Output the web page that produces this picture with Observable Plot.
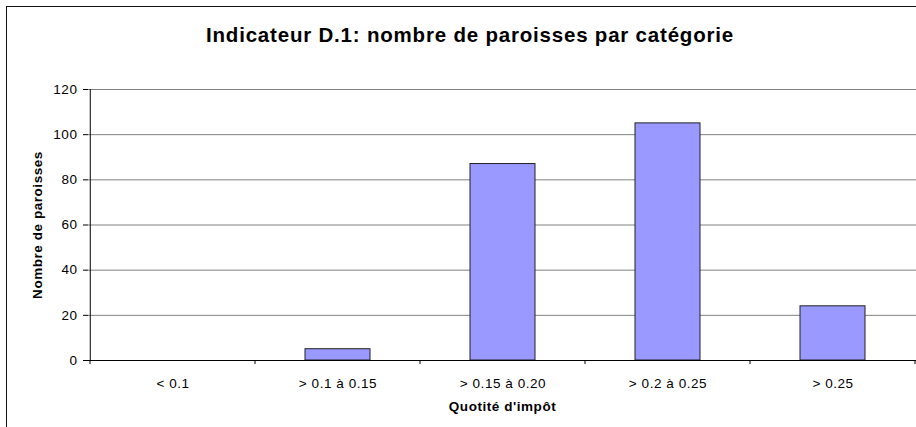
<!DOCTYPE html>
<html>
<head>
<meta charset="utf-8">
<script src="https://cdn.jsdelivr.net/npm/d3@7"></script>
<script src="https://cdn.jsdelivr.net/npm/@observablehq/plot@0.6"></script>
<style>
  html, body { margin: 0; padding: 0; background: #fff; }
  #wrap { position: relative; width: 916px; height: 427px; overflow: hidden; font-family: "Liberation Sans", Arial, sans-serif; }
  #frame { position: absolute; left: 6px; top: 6px; width: 1000px; height: 1000px; border: 1.5px solid #111; box-sizing: border-box; }
  #title { position: absolute; left: 0; top: 23px; width: 940px; text-align: center; font-weight: bold; font-size: 20.5px; letter-spacing: 0.8px; color: #000; }
  #chart { position: absolute; left: 0; top: 0; }
  #chart svg text { letter-spacing: 0.55px; }
</style>
</head>
<body>
<div id="wrap">
  <div id="frame"></div>
  <div id="title">Indicateur D.1: nombre de paroisses par catégorie</div>
  <div id="chart"></div>
</div>
<script>
const categories = ["< 0.1", "> 0.1 à 0.15", "> 0.15 à 0.20", "> 0.2 à 0.25", "> 0.25"];
const counts = [0, 5, 87, 105, 24];
const yTicks = [0, 20, 40, 60, 80, 100, 120];
const xLabel = "Quotité d'impôt";
const yLabel = "Nombre de paroisses";

const data = categories.map((c, i) => ({cat: c, n: counts[i]}));

const plot = Plot.plot({
  width: 916,
  height: 427,
  marginTop: 89,
  marginBottom: 67,
  marginLeft: 88,
  marginRight: 0,
  style: {fontFamily: "'Liberation Sans', Arial, sans-serif", fontSize: "13.5px", background: "transparent", overflow: "visible", color: "#000"},
  x: {domain: categories, padding: 0, label: null},
  y: {domain: [0, 120], label: null},
  marks: [
    Plot.gridY(yTicks, {stroke: "#808080", strokeOpacity: 1}),
    Plot.barY(data.filter(d => d.n > 0), {x: "cat", y: "n", fill: "#9999ff", stroke: "#222", strokeWidth: 1, insetLeft: 50, insetRight: 50}),
    Plot.axisY(yTicks, {tickSize: 5, tickPadding: 6, fontSize: 13.5, stroke: "#000", label: null}),
    Plot.axisX({tickSize: 0, tickPadding: 18, fontSize: 13.5, label: null}),
    Plot.ruleY([0], {stroke: "#000"}),
    Plot.ruleX([0], {x: () => categories[0], dx: -82.75, stroke: "#000"}),
    Plot.text([yLabel], {frameAnchor: "left", textAnchor: "middle", dx: -51, rotate: -90, fontWeight: "bold", fontSize: 13.5}),
    Plot.text([xLabel], {frameAnchor: "bottom", dy: 50, fontWeight: "bold", fontSize: 13.5})
  ]
});
document.getElementById("chart").appendChild(plot);

// boundary ticks on the category axis
const xs = plot.scale("x");
const ys = plot.scale("y");
const bw = xs.bandwidth;
const svg = d3.select(plot);
const y0 = ys.apply(0);
const bounds = categories.map(c => xs.apply(c)).concat([xs.apply(categories[categories.length - 1]) + bw]);
svg.append("g").selectAll("line").data(bounds).join("line")
  .attr("x1", d => d).attr("x2", d => d)
  .attr("y1", y0).attr("y2", y0 + 4)
  .attr("stroke", "#000");
</script>
</body>
</html>
